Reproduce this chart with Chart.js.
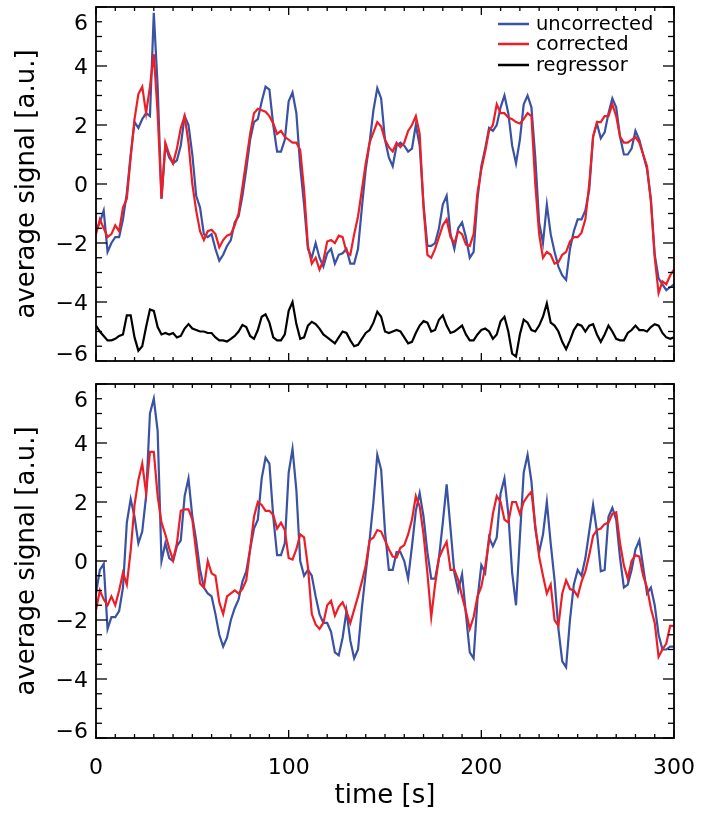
<!DOCTYPE html>
<html>
<head>
<meta charset="utf-8">
<script src="https://cdn.jsdelivr.net/npm/chart.js@4.4.1/dist/chart.umd.min.js"></script>
<style>
  html, body { margin: 0; padding: 0; background: #ffffff; }
  #wrap { position: relative; width: 704px; height: 821px; }
  #topChart { position: absolute; left: 0; top: 0; }
  #bottomChart { position: absolute; left: 0; top: 372px; }
</style>
</head>
<body>
<div id="wrap">
  <canvas id="topChart" width="704" height="372"></canvas>
  <canvas id="bottomChart" width="704" height="449"></canvas>
</div>
<script>
// time axis (s)
const time = [
  0, 2, 4, 6, 8, 10, 12, 14, 16, 18,
  20, 22, 24, 26, 28, 30, 32, 34, 36, 38,
  40, 42, 44, 46, 48, 50, 52, 54, 56, 58,
  60, 62, 64, 66, 68, 70, 72, 74, 76, 78,
  80, 82, 84, 86, 88, 90, 92, 94, 96, 98,
  100, 102, 104, 106, 108, 110, 112, 114, 116, 118,
  120, 122, 124, 126, 128, 130, 132, 134, 136, 138,
  140, 142, 144, 146, 148, 150, 152, 154, 156, 158,
  160, 162, 164, 166, 168, 170, 172, 174, 176, 178,
  180, 182, 184, 186, 188, 190, 192, 194, 196, 198,
  200, 202, 204, 206, 208, 210, 212, 214, 216, 218,
  220, 222, 224, 226, 228, 230, 232, 234, 236, 238,
  240, 242, 244, 246, 248, 250, 252, 254, 256, 258,
  260, 262, 264, 266, 268, 270, 272, 274, 276, 278,
  280, 282, 284, 286, 288, 290, 292, 294, 296, 298,
  300
];

// top panel
const topUncorrected = [
  -1.6, -1.3, -0.9, -2.3, -2.0, -1.8, -1.8, -1.2, -0.3, 1.0,
  2.1, 1.9, 2.2, 2.4, 2.3, 5.8, 3.3, -0.5, 1.3, 0.9,
  0.7, 0.8, 1.3, 2.3, 2.0, 1.0, -0.4, -0.8, -1.7, -1.8,
  -1.7, -2.2, -2.6, -2.4, -2.1, -1.9, -1.3, -1.1, -0.4, 0.5,
  1.5, 2.1, 2.2, 2.8, 3.3, 3.2, 2.0, 1.1, 1.1, 1.5,
  2.8, 3.1, 2.4, 0.6, -0.7, -2.2, -2.5, -2.0, -2.5, -2.8,
  -2.35, -2.2, -2.7, -2.4, -2.35, -2.2, -2.7, -2.7, -2.2, -0.8,
  0.5, 1.4, 2.5, 3.25, 2.9, 1.5, 0.9, 0.6, 1.3, 1.4,
  1.3, 1.1, 1.2, 2.0, 1.3, -0.7, -2.1, -2.1, -2.0, -1.5,
  -0.7, -0.4, -1.7, -2.2, -1.5, -1.3, -1.8, -2.5, -2.3, -0.5,
  0.6, 1.2, 1.9, 1.8, 2.0, 2.6, 3.0, 2.4, 1.3, 0.7,
  1.5, 2.7, 3.0, 2.6, 0.9, -1.3, -2.0, -0.7, -1.7, -2.3,
  -2.8, -3.1, -3.25, -2.2, -1.6, -1.2, -1.2, -0.9, -0.2, 1.6,
  2.05, 1.55, 1.75, 2.4, 2.9, 2.6, 1.6, 1.0, 1.0, 1.2,
  1.8, 1.5, 1.0, 0.5, -0.5, -2.4, -3.2, -3.4, -3.6, -3.5,
  -3.4
];
const topCorrected = [
  -1.7, -1.2, -1.5, -1.8, -1.7, -1.4, -1.6, -0.8, -0.5, 0.9,
  2.2, 3.05, 3.3, 2.4, 3.3, 4.4, 2.4, -0.5, 1.4, 1.0,
  0.7, 1.2, 1.9, 2.3, 1.4, 0.0, -0.9, -1.6, -1.9, -1.6,
  -1.55, -1.7, -2.15, -1.9, -1.75, -1.7, -1.4, -1.0, -0.1, 0.8,
  1.7, 2.4, 2.55, 2.5, 2.45, 2.3, 2.05, 1.7, 1.8, 1.6,
  1.5, 1.4, 1.4, 1.15, -0.2, -2.1, -2.7, -2.5, -2.9, -2.6,
  -1.95, -1.9, -2.0, -1.75, -1.8, -2.3, -2.4, -1.7, -1.1, -0.2,
  0.7, 1.4, 1.75, 2.1, 1.95, 1.5, 1.25, 1.1, 1.4, 1.25,
  1.4, 1.8, 2.0, 2.3, 1.7, -0.8, -2.4, -2.5, -2.2, -1.8,
  -1.4, -1.2, -1.8, -2.0, -1.6, -1.7, -2.05, -2.1, -1.7, -0.3,
  0.5, 1.1, 1.8, 2.0, 2.7, 2.4, 2.4, 2.25, 2.2, 2.1,
  2.05, 2.2, 2.4, 2.3, 0.0, -1.7, -2.5, -2.3, -2.4, -2.7,
  -2.65, -2.4, -2.3, -1.95, -1.8, -1.8, -1.65, -1.2, 0.0, 1.6,
  2.1, 2.1, 2.3, 2.3, 2.7, 2.3, 1.6, 1.4, 1.4, 1.5,
  1.6, 1.4, 1.0, 0.6, -0.6, -2.5, -3.7, -3.3, -3.4, -3.1,
  -2.9
];
const topRegressor = [
  -4.8, -5.0, -5.15, -5.3, -5.3, -5.25, -5.15, -5.1, -4.45, -4.45,
  -5.2, -5.65, -5.5, -4.85, -4.25, -4.3, -4.85, -5.1, -5.05, -5.1,
  -5.05, -5.2, -5.15, -4.9, -4.75, -4.9, -4.95, -5.0, -5.0, -5.05,
  -5.05, -5.2, -5.3, -5.3, -5.34, -5.25, -5.15, -5.0, -4.78, -4.85,
  -5.15, -5.25, -4.95, -4.5, -4.42, -4.7, -5.2, -5.3, -5.3, -5.1,
  -4.3, -4.0, -4.75, -5.25, -5.2, -4.8, -4.67, -4.75, -4.9, -5.1,
  -5.2, -5.3, -5.4, -5.2, -5.0, -5.05, -5.3, -5.5, -5.45, -5.25,
  -5.05, -4.95, -4.7, -4.33, -4.5, -5.0, -5.05, -5.0, -4.95, -5.0,
  -5.2, -5.4, -5.35, -5.05, -4.8, -4.65, -4.7, -5.0, -4.95, -4.6,
  -4.45, -4.8, -5.05, -5.0, -4.9, -4.8, -5.1, -5.3, -5.3, -5.1,
  -4.95, -4.9, -5.0, -5.25, -5.1, -4.65, -4.5, -5.0, -5.75, -5.85,
  -5.1, -4.6, -4.7, -4.95, -5.0, -4.8, -4.5, -4.05, -4.7, -4.8,
  -5.0, -5.35, -5.6, -5.3, -4.95, -4.75, -4.8, -5.0, -4.8, -4.75,
  -5.1, -5.35, -5.1, -4.8, -5.0, -5.25, -5.3, -5.3, -5.05, -4.95,
  -4.8, -4.95, -4.95, -5.0, -4.85, -4.75, -4.8, -5.05, -5.2, -5.25,
  -5.2
];

// bottom panel
const bottomUncorrected = [
  -1.1, -0.3, -0.1, -2.3, -1.9, -1.9, -1.7, -0.9, 1.3, 2.1,
  1.5, 0.6, 1.0, 2.2, 5.0, 5.5, 4.4, 0.0, 0.6, 0.1,
  0.0, 0.5, 0.7, 2.2, 2.8, 1.5, 0.7, -0.3, -0.9, -1.1,
  -1.2, -1.8, -2.5, -2.9, -2.6, -2.0, -1.6, -1.3, -0.7, -0.35,
  0.4, 1.1, 1.4, 2.8, 3.5, 3.3, 1.5, 0.2, 0.2, 0.6,
  3.0, 3.8, 2.4, 0.0, -0.5, -0.3, -0.5, -1.2, -1.8, -2.1,
  -2.1, -2.4, -3.1, -3.2, -2.6, -1.7, -2.7, -3.3, -3.0, -1.6,
  -0.4, 0.7, 2.0, 3.6, 3.1, 1.0, -0.3, -0.3, 0.3, 0.3,
  0.0, -0.6, 0.5, 1.7, 2.3, 1.5, 0.3, -0.6, -0.6, 0.1,
  1.3, 2.6, 1.1, -0.4, -1.0, -0.45, -1.8, -3.1, -3.3, -1.3,
  -0.14, -0.4, 0.8, 0.5, 0.8, 2.3, 2.8, 1.6, -0.4, -1.5,
  0.8, 3.0, 3.6, 2.7, 1.1, 0.3, 0.9, 2.0, 0.6, -0.64,
  -2.3, -3.4, -3.6, -2.0, -0.8, -0.3, -0.5, 0.1, 1.0, 1.9,
  1.0, -0.35, -0.3, 1.5, 1.8, 1.4, 0.1, -0.9, -0.8, -0.3,
  0.4, 0.7, -0.2, -1.1, -0.9, -1.5, -2.5, -3.0, -3.0, -2.9,
  -2.9
];
const bottomCorrected = [
  -1.66, -1.0, -1.3, -1.5, -1.2, -1.5, -1.0, -0.4, -0.8, 0.35,
  1.9, 2.75, 3.3, 2.3, 3.7, 3.7, 2.2, 1.3, 0.9, 0.43,
  0.03, 0.6, 1.7, 1.75, 1.75, 1.4, 0.3, -0.76, -0.9, 0.0,
  -0.42, -0.5, -1.4, -1.8, -1.2, -1.1, -1.0, -1.1, -0.95, -0.65,
  0.4, 1.5, 2.0, 1.9, 1.7, 1.7, 1.56, 1.1, 1.3, 1.05,
  0.1, 0.05, 0.4, 0.9, 0.8, -0.2, -1.8, -2.15, -2.3, -2.1,
  -1.5, -1.35, -1.85, -1.55, -1.4, -1.7, -2.1, -1.65, -1.2, -0.7,
  -0.15, 0.7, 0.8, 1.05, 1.0, 0.7, 0.4, 0.15, 0.12, 0.45,
  0.54, 0.9, 1.4, 2.2, 1.85, 0.9, -0.4, -1.9, -0.8, 0.1,
  0.4, 0.65, -0.3, -0.3, -0.64, -1.2, -1.7, -2.3, -1.9, -1.2,
  -0.87, -0.2, 0.7, 1.6, 2.2, 2.0, 1.4, 1.3, 2.0, 2.0,
  1.6, 2.0, 2.2, 2.35, 1.2, 0.15, -0.5, -1.1, -0.8, -2.0,
  -2.2, -1.1, -0.65, -0.95, -1.0, -1.2, -0.7, -0.35, 0.2, 0.85,
  1.05, 1.1, 1.25, 1.3, 1.6, 1.65, 0.6, -0.15, -0.6, 0.0,
  0.2, 0.15, -0.5, -0.9, -1.6, -2.1, -3.25, -3.0, -2.8, -2.2,
  -2.2
];

// axes and labels
const xTicks = [0, 100, 200, 300];
const xTickLabels = ['0', '100', '200', '300'];
const yTicks = [-6, -4, -2, 0, 2, 4, 6];
const yTickLabels = ['\u22126', '\u22124', '\u22122', '0', '2', '4', '6'];
const xTitle = 'time [s]';
const yTitle = 'average signal [a.u.]';
const legendLabels = ['uncorrected', 'corrected', 'regressor'];

const BLUE = '#3952a3';
const RED = '#ec1f28';
const BLACK = '#000000';
const FONT = '"DejaVu Sans", "Liberation Sans", sans-serif';

function series(ys) {
  return ys.map((v, i) => ({ x: time[i], y: v }));
}

function line(ctx, x1, y1, x2, y2) {
  ctx.beginPath();
  ctx.moveTo(x1, y1);
  ctx.lineTo(x2, y2);
  ctx.stroke();
}

// frame, inward ticks, labels and legend drawn on the chart's own scales
const axesFrame = {
  id: 'axesFrame',
  afterDatasetsDraw(chart, args, opts) {
    const ctx = chart.ctx;
    const a = chart.chartArea;
    const xs = chart.scales.x;
    const ys = chart.scales.y;
    ctx.save();
    ctx.strokeStyle = '#000';
    ctx.lineWidth = 1.8;
    ctx.strokeRect(a.left, a.top, a.right - a.left, a.bottom - a.top);

    ctx.lineWidth = 1.3;
    for (let v = 0; v <= 300; v += 10) {
      const px = xs.getPixelForValue(v);
      const len = xTicks.includes(v) ? 8 : 4;
      line(ctx, px, a.bottom, px, a.bottom - len);
      line(ctx, px, a.top, px, a.top + len);
    }
    for (let v = -6; v <= 6; v += 0.5) {
      const py = ys.getPixelForValue(v);
      const len = yTicks.includes(v) ? 11 : 6;
      line(ctx, a.left, py, a.left + len, py);
      line(ctx, a.right, py, a.right - len, py);
    }

    ctx.fillStyle = '#000';
    ctx.font = '22px ' + FONT;
    ctx.textAlign = 'right';
    ctx.textBaseline = 'alphabetic';
    yTicks.forEach((v, i) => {
      let py = ys.getPixelForValue(v);
      py = Math.max(py, a.top + 15);
      py = Math.min(py, a.bottom - 8);
      ctx.fillText(yTickLabels[i], a.left - 8, py + 8);
    });

    if (opts.xLabels) {
      ctx.textAlign = 'center';
      xTicks.forEach((v, i) => {
        ctx.fillText(xTickLabels[i], xs.getPixelForValue(v), a.bottom + 36);
      });
      ctx.font = '26px ' + FONT;
      ctx.fillText(xTitle, (a.left + a.right) / 2, a.bottom + 65);
    }

    ctx.save();
    ctx.font = '26px ' + FONT;
    ctx.textAlign = 'center';
    ctx.translate(34, (a.top + a.bottom) / 2);
    ctx.rotate(-Math.PI / 2);
    ctx.fillText(yTitle, 0, 0);
    ctx.restore();

    if (opts.legend) {
      const colors = [BLUE, RED, BLACK];
      const rows = [24, 44, 65];
      ctx.font = '19.5px ' + FONT;
      ctx.textAlign = 'left';
      ctx.lineWidth = 2.5;
      legendLabels.forEach((lab, i) => {
        ctx.strokeStyle = colors[i];
        line(ctx, 498, rows[i], 529, rows[i]);
        ctx.fillText(lab, 536, rows[i] + 6);
      });
    }
    ctx.restore();
  }
};

function makeChart(id, datasets, padding, opts) {
  return new Chart(document.getElementById(id), {
    type: 'line',
    data: { datasets: datasets },
    options: {
      responsive: false,
      devicePixelRatio: 1,
      animation: false,
      layout: { padding: padding },
      elements: { point: { radius: 0 }, line: { tension: 0, borderWidth: 2.2 } },
      scales: {
        x: { type: 'linear', min: 0, max: 300, display: false },
        y: { type: 'linear', min: -6, max: 6, display: false }
      },
      plugins: {
        legend: { display: false },
        tooltip: { enabled: false },
        axesFrame: opts
      }
    },
    plugins: [axesFrame]
  });
}

makeChart('topChart', [
  { label: legendLabels[0], data: series(topUncorrected), borderColor: BLUE, order: 3 },
  { label: legendLabels[1], data: series(topCorrected), borderColor: RED, order: 1 },
  { label: legendLabels[2], data: series(topRegressor), borderColor: BLACK, order: 2 }
], { left: 96, right: 30, top: 7, bottom: 11 }, { legend: true, xLabels: false });

makeChart('bottomChart', [
  { label: legendLabels[0], data: series(bottomUncorrected), borderColor: BLUE, order: 2 },
  { label: legendLabels[1], data: series(bottomCorrected), borderColor: RED, order: 1 }
], { left: 96, right: 30, top: 12, bottom: 83 }, { legend: false, xLabels: true });
</script>
</body>
</html>
